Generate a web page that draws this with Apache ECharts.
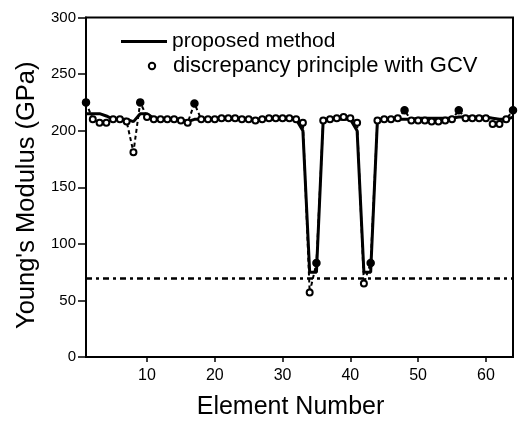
<!DOCTYPE html>
<html>
<head>
<meta charset="utf-8">
<script src="https://cdn.jsdelivr.net/npm/echarts@6/dist/echarts.min.js"></script>
<style>html,body{margin:0;padding:0;background:#fff}#c{width:518px;height:428px}</style>
</head>
<body>
<div id="c"></div>
<script>
var elements = [];
for (var i = 1; i <= 64; i++) elements.push(i);

var proposed = [215,215,215,213,210,210,210,208,215,215,
                211,210,210,210,210,208,210,210,210,210,
                210,210,210,210,210,210,210,210,210,210,
                210,210,200,75,75,210,210,210,210,210,
                200,75,75,210,210,210,210,210,210,211,
                211,211,211,211,211,212,212,212,212,212,
                211,210,210,212];

var discrepancy = [225,210,207,207,210,210,208,181,225,212,
                   210,210,210,210,209,207,224,210,210,210,
                   211,211,211,210,210,209,210,211,211,211,
                   211,210,207,57,83,209,210,211,212,211,
                   207,65,83,209,210,210,211,218,209,209,
                   209,208,208,209,210,218,211,211,211,211,
                   206,206,210,218];

var filledPoints = [1,9,17,35,43,48,56,64];
var referenceLevel = 70;
var xTicks = [10,20,30,40,50,60];

var font = "'Liberation Sans', Arial, sans-serif";

var chart = echarts.init(document.getElementById('c'), null, {renderer:'canvas'});

var propData = elements.map(function(e, k){ return [e, proposed[k]]; });
var discData = elements.map(function(e, k){
  var item = {value:[e, discrepancy[k]]};
  if (filledPoints.indexOf(e) >= 0) {
    item.symbol = 'circle';
    item.symbolSize = 7;
    item.itemStyle = {color:'#000'};
  }
  return item;
});

chart.setOption({
  animation:false,
  backgroundColor:'#fff',
  grid:{left:86, right:5, top:17.5, bottom:71, show:true, borderColor:'#000', borderWidth:2, backgroundColor:'transparent'},
  legend:[{
    data:[{name:'proposed method', icon:'rect', itemStyle:{color:'#000', opacity:1}}],
    left:121, top:31, orient:'vertical', padding:0,
    itemWidth:46, itemHeight:3,
    textStyle:{fontFamily:font, fontSize:21, color:'#000'}
  },{
    data:[{name:'discrepancy principle with GCV', lineStyle:{opacity:0}}],
    left:135, top:55, orient:'vertical', padding:0,
    itemWidth:32, itemHeight:8,
    textStyle:{fontFamily:font, fontSize:22, color:'#000'}
  }],
  xAxis:{
    type:'value', min:1, max:64,
    name:'Element Number', nameLocation:'middle', nameGap:38,
    nameTextStyle:{fontFamily:font, fontSize:25, color:'#000', padding:[0,18,0,0]},
    axisLine:{show:true, lineStyle:{color:'#000', width:2}},
    axisTick:{show:true, length:5, lineStyle:{color:'#000', width:1.5}, customValues:xTicks},
    axisLabel:{fontFamily:font, fontSize:16, color:'#000', margin:11, customValues:xTicks},
    splitLine:{show:false}
  },
  yAxis:{
    type:'value', min:0, max:300, interval:50,
    name:"Young's Modulus (GPa)", nameLocation:'middle', nameGap:46,
    nameTextStyle:{fontFamily:font, fontSize:25.5, color:'#000', padding:[0,16,0,0]},
    axisLine:{show:true, lineStyle:{color:'#000', width:2}},
    axisTick:{show:true, length:8, lineStyle:{color:'#000', width:1.5}},
    axisLabel:{fontFamily:font, fontSize:15, color:'#000', margin:10},
    splitLine:{show:false}
  },
  series:[{
    name:'proposed method',
    type:'line',
    data:propData,
    symbol:'none',
    clip:false,
    z:2,
    lineStyle:{color:'#000', width:3},
    itemStyle:{color:'#000'},
    markLine:{
      silent:true, symbol:'none',
      label:{show:false},
      lineStyle:{color:'#000', width:2.5, type:[6,4,3,4]},
      data:[{yAxis:referenceLevel}]
    }
  },{
    name:'discrepancy principle with GCV',
    type:'line',
    data:discData,
    symbol:'emptyCircle',
    symbolSize:6,
    clip:false,
    z:3,
    lineStyle:{color:'#000', width:2, type:[4,3]},
    itemStyle:{color:'#000', borderColor:'#000', borderWidth:1.5}
  }]
});
</script>
</body>
</html>
